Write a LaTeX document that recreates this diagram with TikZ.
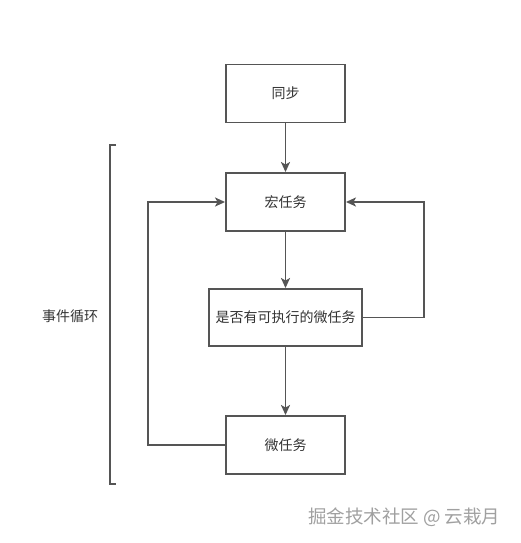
\documentclass[tikz,border=0pt]{standalone}
\usepackage{fontspec}
\setmainfont{Noto Sans CJK SC}
\usetikzlibrary{arrows.meta,positioning}
\definecolor{linegray}{HTML}{555555}
\definecolor{textgray}{HTML}{333333}
\definecolor{markgray}{HTML}{A0A0A0}
\begin{document}
\begin{tikzpicture}[x=1pt,y=-1pt,
  box/.style={draw=linegray,line width=1.9pt,fill=white,minimum width=119pt,minimum height=58pt,
    inner sep=0pt,text=textgray,font=\fontsize{14}{16}\selectfont},
  flow/.style={draw=linegray,line width=1.9pt,-{Stealth[length=10pt,width=9pt,inset=2.5pt]}}]
\useasboundingbox (0,0) rectangle (520,543);
\node[box] (sync) at (285.5,93.5) {同步};
\node[box] (macro) at (285.5,202) {宏任务};
\node[box,minimum width=153pt,minimum height=57pt] (check) at (285.5,317.5) {是否有可执行的微任务};
\node[box] (micro) at (285.5,445) {微任务};
\draw[flow] (sync) -- (macro);
\draw[flow] (macro) -- (check);
\draw[flow] (check) -- (micro);
\draw[flow] (micro.west) -- ++(-77,0) |- (macro.west);
\draw[flow] (check.east) -- ++(61,0) |- (macro.east);
% bracket for the loop
\draw[linegray,line width=1.9pt] (116,145) -- (110,145) -- (110,484) -- (116,484);
\node[text=textgray,font=\fontsize{14}{16}\selectfont] (loop) at (70,316) {事件循环};
\node[text=markgray,font=\fontsize{18.5}{22}\selectfont,anchor=east] (mark) at (504,517) {掘金技术社区 @ 云栽月};
\end{tikzpicture}
\end{document}
